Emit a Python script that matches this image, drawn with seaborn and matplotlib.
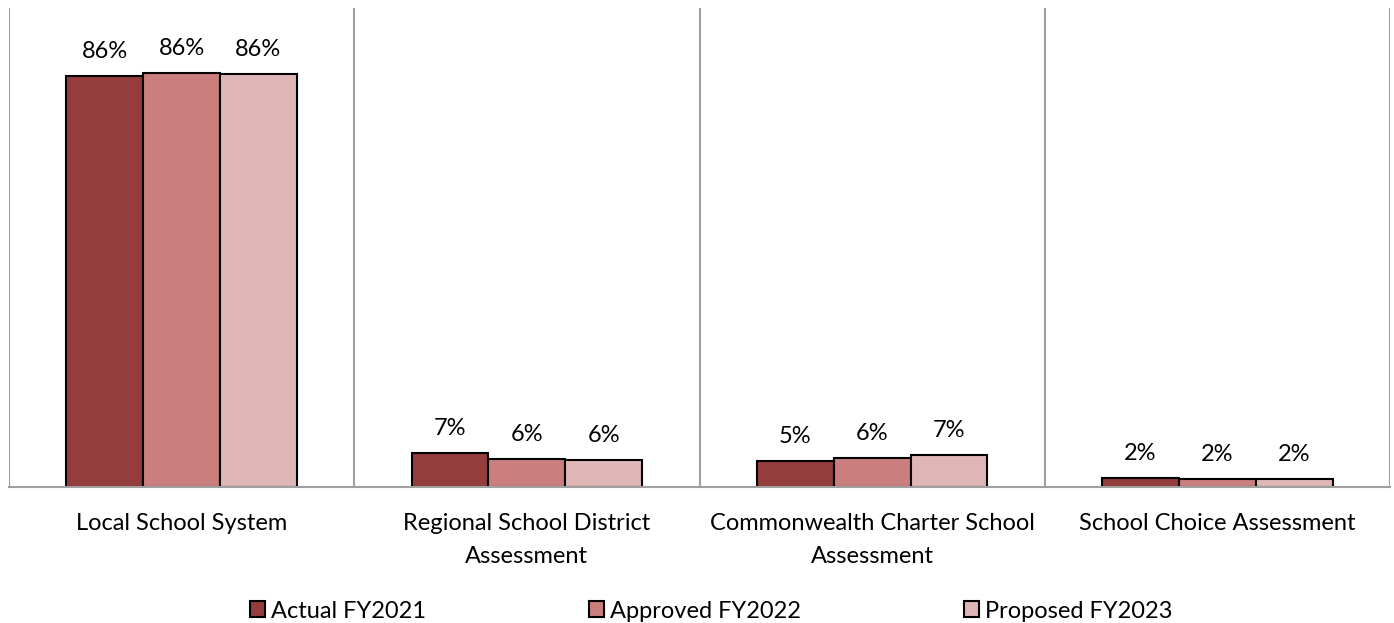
import matplotlib
matplotlib.use("Agg")
import matplotlib.pyplot as plt
import seaborn as sns
import pandas as pd
from matplotlib.ticker import FixedLocator

categories = ["Local School System", "Regional School District\nAssessment",
              "Commonwealth Charter School\nAssessment", "School Choice Assessment"]
series = ["Actual FY2021", "Approved FY2022", "Proposed FY2023"]
actual_fy2021 = [85.8, 7.1, 5.4, 1.8]
approved_fy2022 = [86.4, 5.9, 6.0, 1.7]
proposed_fy2023 = [86.2, 5.7, 6.6, 1.7]
colors = ["#953C3C", "#CB7E7E", "#DFB6B6"]

rows = []
for s, vals in zip(series, [actual_fy2021, approved_fy2022, proposed_fy2023]):
    for c, v in zip(categories, vals):
        rows.append({"Category": c, "Series": s, "Value": v})
df = pd.DataFrame(rows)

sns.set_style("white")
plt.rcParams['font.family'] = ['Lato', 'DejaVu Sans']
plt.rcParams['text.color'] = 'black'
plt.rcParams['xtick.color'] = 'black'

FS = 17
fig = plt.figure(figsize=(13.94, 6.23), dpi=100)
ax = fig.add_axes([9/1394, 136/623, (1390-9)/1394, (487-8)/623])

sns.barplot(data=df, x="Category", y="Value", hue="Series", order=categories,
            hue_order=series, palette=colors, width=0.667, edgecolor="black",
            linewidth=1.5, ax=ax, legend=True, errorbar=None, saturation=1)

for cont in ax.containers:
    ax.bar_label(cont, fmt="{:.0f}%", padding=10, fontsize=FS, color="black")

ax.set_ylim(0, 100)
ax.set_xlim(-0.5, 3.5)
ax.set_yticks([])
ax.set_xlabel("")
ax.set_ylabel("")
ax.set_xticks(range(len(categories)), [""] * len(categories))
ax.tick_params(axis="x", which="major", length=0)
for i, cat in enumerate(categories):
    ax.annotate(cat, xy=(i, 0), xycoords=ax.get_xaxis_transform(),
                xytext=(0, -19), textcoords="offset points",
                ha="center", va="top", fontsize=FS, color="black",
                linespacing=1.7, annotation_clip=False)
ax.xaxis.set_minor_locator(FixedLocator([-0.5, 0.5, 1.5, 2.5, 3.5]))
ax.tick_params(axis="x", which="minor", length=8, width=1.5, color="#A0A0A0")
ax.grid(False)
ax.grid(axis="x", which="minor", color="#A0A0A0", linewidth=1.5)
for side in ["top", "right", "left"]:
    ax.spines[side].set_visible(False)
ax.spines["bottom"].set_color("#A0A0A0")
ax.spines["bottom"].set_linewidth(1.5)

handles, labels = ax.get_legend_handles_labels()
ax.get_legend().remove()
fig.legend(handles, labels, loc="center", bbox_to_anchor=(711/1394, 1 - 611/623),
           ncol=3, frameon=False, fontsize=FS, handlelength=0.64, handleheight=0.64,
           handletextpad=0.25, columnspacing=6.9, borderpad=0, borderaxespad=0)

fig.savefig("out.png", dpi=100)
